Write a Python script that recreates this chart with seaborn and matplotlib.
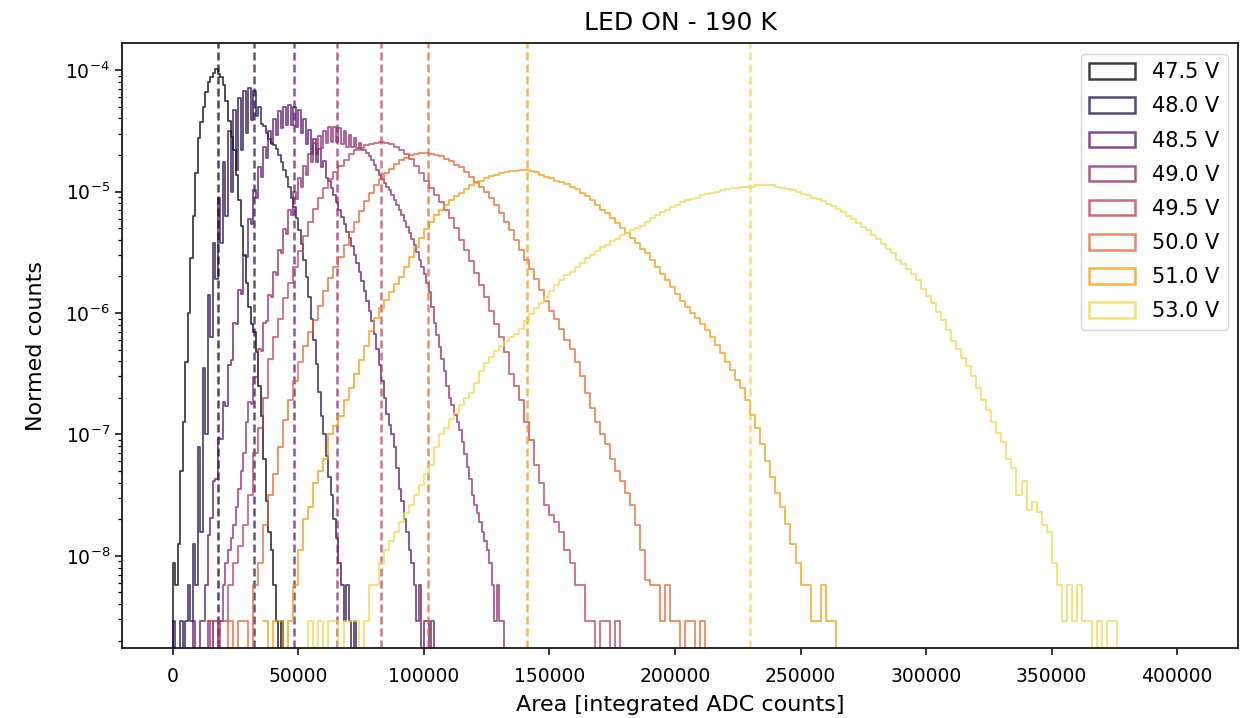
import numpy as np
import pandas as pd
import matplotlib
matplotlib.use("Agg")
import matplotlib.pyplot as plt
from matplotlib.patches import Patch
from matplotlib.ticker import MultipleLocator
from matplotlib.colors import to_hex
import seaborn as sns

# ---------------- data ----------------
voltage_labels = ["47.5 V", "48.0 V", "48.5 V", "49.0 V", "49.5 V", "50.0 V", "51.0 V", "53.0 V"]
# dashed lines: mean area of each distribution
peak_area = [17960, 32300, 48100, 65300, 83100, 101500, 141200, 229700]
# first bin edge and bin width for each histogram (ADC counts)
bin_start = [-1000, -1000, 7000, 13000, 14000, 20000, 36000, 50000]
bin_width = [1000, 1000, 1000, 1000, 2000, 2000, 2000, 2000]

log10_counts_47_5 = [
    None, -8.06, -8.24, -7.90, -7.30, -6.90, -6.40, -6.00, -5.55, -5.20,
    -4.85, -4.56, -4.43, -4.30, -4.18, -4.10, -4.06, -4.02, -3.99, -4.03,
    -4.06, -4.12, -4.25, -4.42, -4.55, -4.66, -4.86, -5.07, -5.28, -5.52,
    -5.75, -5.95, -6.09, -6.16, -6.32, -6.60, -6.85, -7.20, -7.55, -7.80,
    -7.95, -8.24, -8.54, None, -8.54, None, None]
log10_counts_48_0 = [
    None, -8.54, None, None, -8.54, None, -8.54, -8.24, -8.54, -7.90,
    -8.24, -7.10, -7.80, -6.45, -7.00, -5.85, -6.20, -5.42, -5.72, -5.05,
    -5.42, -4.76, -5.20, -4.50, -5.00, -4.33, -4.82, -4.23, -4.66, -4.17,
    -4.52, -4.15, -4.41, -4.17, -4.38, -4.30, -4.44, -4.46, -4.52, -4.57,
    -4.60, -4.62, -4.65, -4.70, -4.76, -4.82, -4.88, -4.96, -5.05, -5.13,
    -5.22, -5.32, -5.43, -5.56, -5.70, -5.87, -6.05, -6.22, -6.42, -6.65,
    -6.85, -7.00, -7.18, -7.35, -7.50, -7.70, -7.85, -8.06, -8.24, -8.54,
    -8.24, -8.54, None, -8.54, None]
log10_counts_48_5 = [
    None, -8.54, None,
    None, -8.54, -8.54, -8.24, -7.83, -7.69, -7.38, -7.37, -7.03, -7.04,
    -6.73, -6.77, -6.43, -6.39, -6.08, -6.09, -5.81, -5.84, -5.53, -5.54,
    -5.23, -5.27, -4.99, -5.05, -4.80, -4.88, -4.63, -4.72, -4.50, -4.61,
    -4.40, -4.53, -4.34, -4.48, -4.30, -4.45, -4.29, -4.45, -4.30, -4.47,
    -4.33, -4.52, -4.40, -4.61, -4.49, -4.69, -4.57, -4.76, -4.65, -4.80,
    -4.75, -4.89, -4.91, -4.97, -5.03, -5.09, -5.15, -5.21, -5.27, -5.33,
    -5.38, -5.45, -5.52, -5.59, -5.66, -5.74, -5.82, -5.90, -5.98, -6.07,
    -6.17, -6.30, -6.43, -6.56, -6.70, -6.83, -6.92, -7.00, -7.10, -7.28,
    -7.45, -7.55, -7.70, -7.80, -7.95, -8.06, -8.24, -8.54, -8.24, None,
    -8.54, -8.54, None, -8.54, None]
log10_counts_49_0 = [
    None, -8.54, None, -8.54, -8.54, None, -8.54, -8.24, -8.06, -7.95,
    -7.85, -7.75, -7.60, -7.45, -7.30, -7.15, -6.90, -6.73, -6.75, -6.53,
    -6.53, -6.30, -6.31, -6.08, -6.07, -5.85, -5.87, -5.66, -5.69, -5.48,
    -5.51, -5.31, -5.35, -5.15, -5.19, -5.00, -5.06, -4.89, -4.96, -4.79,
    -4.86, -4.69, -4.76, -4.60, -4.69, -4.54, -4.64, -4.50, -4.60, -4.47,
    -4.59, -4.47, -4.59, -4.48, -4.61, -4.50, -4.63, -4.53, -4.63, -4.56,
    -4.64, -4.60, -4.66, -4.66, -4.68, -4.71, -4.74, -4.78, -4.82, -4.86,
    -4.90, -4.93, -4.96, -4.99, -5.03, -5.07, -5.11, -5.15, -5.19, -5.24,
    -5.29, -5.34, -5.39, -5.44, -5.50, -5.56, -5.62, -5.68, -5.75, -5.83,
    -5.95, -6.08, -6.18, -6.28, -6.38, -6.48, -6.60, -6.70, -6.76, -6.84,
    -6.90, -6.96, -7.06, -7.16, -7.27, -7.37, -7.50, -7.58, -7.65, -7.72,
    -7.80, -7.88, -7.95, -8.06, -8.24, -8.54, -8.24, -8.54, -8.54, None,
    None]
log10_counts_49_5 = [
    -8.54, None, -8.54, -8.54, -8.24, -8.06, -7.92, -7.75, -7.50, -7.15,
    -6.95, -6.70, -6.38, -6.20, -6.05, -5.88, -5.75, -5.62, -5.49, -5.37,
    -5.25, -5.14, -5.05, -4.97, -4.90, -4.84, -4.79, -4.74, -4.69, -4.66,
    -4.64, -4.62, -4.61, -4.60, -4.59, -4.60, -4.61, -4.63, -4.66, -4.69,
    -4.73, -4.79, -4.85, -4.91, -4.97, -5.03, -5.09, -5.15, -5.22, -5.30,
    -5.40, -5.48, -5.57, -5.67, -5.77, -5.87, -5.98, -6.09, -6.20, -6.32,
    -6.50, -6.60, -6.72, -6.90, -7.05, -7.25, -7.40, -7.58, -7.66, -7.72,
    -7.80, -7.95, -8.06, -8.24, -8.24, -8.54, -8.54, None, -8.54, -8.54,
    None, -8.54, None, None]
log10_counts_50_0 = [
    None, -8.54, None, -8.54, -8.54, None, -8.24, -8.06, -7.75, -7.50,
    -7.33, -7.10, -6.88, -6.72, -6.56, -6.40, -6.27, -6.16, -6.06, -5.94,
    -5.82, -5.71, -5.62, -5.54, -5.44, -5.33, -5.25, -5.16, -5.08, -5.01,
    -4.95, -4.90, -4.85, -4.81, -4.77, -4.74, -4.72, -4.70, -4.69, -4.68,
    -4.68, -4.69, -4.70, -4.71, -4.73, -4.75, -4.78, -4.80, -4.84, -4.88,
    -4.92, -4.96, -5.00, -5.05, -5.11, -5.18, -5.25, -5.32, -5.40, -5.48,
    -5.56, -5.64, -5.72, -5.81, -5.90, -5.98, -6.05, -6.13, -6.22, -6.30,
    -6.40, -6.52, -6.66, -6.78, -6.90, -7.00, -7.08, -7.20, -7.30, -7.38,
    -7.48, -7.58, -7.75, -7.95, -8.20, -8.24, -8.24, -8.54, -8.24, -8.54,
    -8.54, None, -8.54, -8.54, None, -8.54, None]
log10_counts_51_0 = [
    -8.54, None, -8.54, -8.54, None, -8.54, -8.24, -7.95, -7.70, -7.60,
    -7.40, -7.30, -7.20, -7.00, -6.93, -6.85, -6.72, -6.62, -6.50, -6.39,
    -6.27, -6.15, -6.04, -5.96, -5.89, -5.83, -5.76, -5.70, -5.62, -5.54,
    -5.46, -5.38, -5.31, -5.25, -5.19, -5.15, -5.11, -5.07, -5.04, -5.01,
    -4.98, -4.95, -4.93, -4.91, -4.89, -4.87, -4.86, -4.85, -4.84, -4.83,
    -4.83, -4.82, -4.82, -4.83, -4.84, -4.86, -4.88, -4.89, -4.91, -4.92,
    -4.94, -4.96, -4.98, -5.01, -5.04, -5.07, -5.11, -5.15, -5.18, -5.22,
    -5.26, -5.30, -5.34, -5.38, -5.42, -5.47, -5.51, -5.56, -5.62, -5.68,
    -5.73, -5.79, -5.84, -5.90, -5.95, -6.00, -6.04, -6.09, -6.14, -6.20,
    -6.26, -6.33, -6.40, -6.47, -6.55, -6.62, -6.72, -6.84, -6.95, -7.08,
    -7.22, -7.35, -7.48, -7.60, -7.74, -7.90, -8.06, -8.24, -8.24, -8.54,
    -8.54, -8.24, -8.54, -8.54, None, None]
log10_counts_53_0 = [
    None, None, -8.54, None, -8.54, None, -8.54, -8.54, None, -8.54,
    -8.54, -8.54, None, -8.54, -8.24, -8.24, -8.06, -7.95, -7.88, -7.80,
    -7.72, -7.65, -7.58, -7.50, -7.42, -7.33, -7.25, -7.10, -7.00, -6.95,
    -6.87, -6.82, -6.76, -6.70, -6.66, -6.58, -6.48, -6.41, -6.36, -6.31,
    -6.27, -6.23, -6.20, -6.17, -6.13, -6.07, -6.01, -5.96, -5.92, -5.87,
    -5.82, -5.77, -5.73, -5.69, -5.66, -5.62, -5.59, -5.55, -5.52, -5.49,
    -5.46, -5.44, -5.41, -5.39, -5.36, -5.34, -5.32, -5.30, -5.28, -5.25,
    -5.22, -5.19, -5.17, -5.15, -5.13, -5.11, -5.09, -5.07, -5.06, -5.05,
    -5.03, -5.02, -5.01, -5.00, -4.99, -4.98, -4.97, -4.97, -4.96, -4.96,
    -4.96, -4.95, -4.95, -4.95, -4.95, -4.96, -4.97, -4.98, -4.99, -5.00,
    -5.02, -5.03, -5.05, -5.06, -5.08, -5.10, -5.12, -5.14, -5.17, -5.20,
    -5.23, -5.26, -5.29, -5.32, -5.36, -5.39, -5.43, -5.47, -5.51, -5.56,
    -5.60, -5.64, -5.68, -5.73, -5.80, -5.86, -5.92, -5.99, -6.06, -6.14,
    -6.23, -6.30, -6.37, -6.44, -6.52, -6.62, -6.72, -6.80, -6.90, -6.99,
    -7.06, -7.20, -7.28, -7.50, -7.38, -7.62, -7.56, -7.64, -7.75, -7.80,
    -8.06, -8.24, -8.54, -8.24, -8.54, -8.24, -8.54, -8.54, None, -8.54,
    None, -8.54, -8.54, None, None, None]

series_log10 = [log10_counts_47_5, log10_counts_48_0, log10_counts_48_5, log10_counts_49_0,
                log10_counts_49_5, log10_counts_50_0, log10_counts_51_0, log10_counts_53_0]

# ---------------- style ----------------
sns.set_style("ticks")
plt.rcParams["font.family"] = ["DejaVu Sans"]
plt.rcParams.update({
    "text.color": "black", "axes.labelcolor": "black",
    "xtick.color": "black", "ytick.color": "black",
    "axes.edgecolor": "0.1", "axes.linewidth": 1.3,
    "xtick.major.size": 5.2, "ytick.major.size": 5.2, "ytick.minor.size": 3.2,
    "xtick.major.width": 1.1, "ytick.major.width": 1.1, "ytick.minor.width": 0.9,
})
colors = [to_hex(c) for c in plt.cm.inferno(np.linspace(0, 0.9, len(voltage_labels)))]

fig, ax = plt.subplots(figsize=(12.53, 7.18), dpi=100)
fig.subplots_adjust(left=0.0974, right=0.988, bottom=0.0975, top=0.9395)
ax.set_yscale("log")

handles = []
for label, start, width, logv, peak, color in zip(voltage_labels, bin_start, bin_width,
                                                   series_log10, peak_area, colors):
    lv = np.array([np.nan if v is None else v for v in logv], dtype=float)
    counts = np.where(np.isnan(lv), 0.0, 10.0 ** np.nan_to_num(lv, nan=0.0))
    edges = start + width * np.arange(len(counts) + 1)
    centers = edges[:-1] + width / 2.0
    df = pd.DataFrame({"area": centers, "normed": counts})
    sns.histplot(data=df, x="area", weights="normed", bins=list(edges), element="step",
                 fill=False, color=color, alpha=0.75, linewidth=1.3, ax=ax)
    ax.axvline(peak, color=color, alpha=0.7, linewidth=1.8, linestyle=(0, (3.2, 1.6)))
    handles.append(Patch(facecolor="none", edgecolor=color, alpha=0.75, linewidth=1.8, label=label))

ax.set_xlim(-20200, 424200)
ax.set_ylim(1.74e-9, 1.66e-4)
ax.xaxis.set_major_locator(MultipleLocator(50000))
ax.tick_params(axis="both", which="major", labelsize=13.5)
ax.tick_params(axis="x", which="major", pad=8.5)
ax.set_xlabel("Area [integrated ADC counts]", fontsize=16, labelpad=6.5)
ax.set_ylabel("Normed counts", fontsize=16, labelpad=14)
ax.set_title("LED ON - 190 K", fontsize=18, pad=10)
ax.legend(handles=handles, loc="upper right", fontsize=15, frameon=True,
          handlelength=2.2, handleheight=0.77, labelspacing=0.68)

fig.savefig("out.png", dpi=100)
